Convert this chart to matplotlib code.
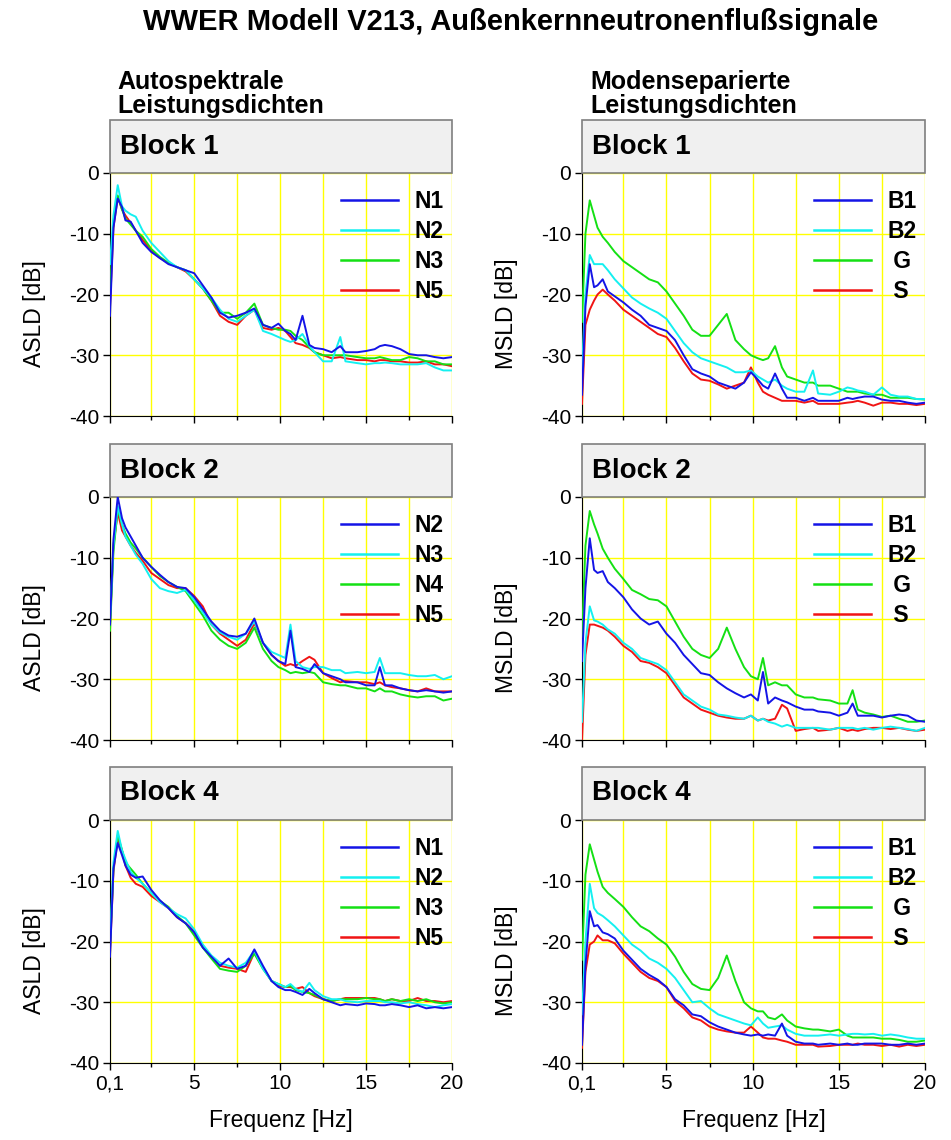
import matplotlib
matplotlib.use("Agg")
import matplotlib.pyplot as plt
from matplotlib.patches import Rectangle

plt.rcParams['font.family'] = ['Liberation Sans', 'DejaVu Sans']
plt.rcParams['axes.unicode_minus'] = False

# frequency grid (Hz) shared by all spectra
FREQ = [0.1, 0.3, 0.55, 0.8, 1.0, 1.3, 1.6, 2.0, 2.5, 3.0, 3.5, 4.0, 4.5, 5.0, 5.5, 6.0,
        6.5, 7.0, 7.5, 8.0, 8.5, 9.0, 9.5, 9.9, 10.3, 10.6, 10.9, 11.3, 11.7, 12.0, 12.5, 13.0,
        13.5, 13.8, 14.5, 15.0, 15.5, 15.8, 16.1, 16.5, 17.0, 17.5, 18.0, 18.5, 19.0, 19.5, 20.0]

# Block 1 - autospectral densities [dB]
b1_n1 = [-23.5, -9, -4.2, -5.6, -7.8, -8, -9.5, -11.5, -13, -14, -15, -15.5, -16, -16.5, -18.5, -20.5,
         -23, -23.8, -23.5, -23, -22.3, -25, -25.5, -24.8, -26, -26.5, -27.5, -23.5, -28.3, -28.8, -29, -29.5,
         -28.5, -29.5, -29.5, -29.3, -29, -28.5, -28.3, -28.5, -29, -29.8, -30, -30, -30.3, -30.5, -30.3]
b1_n2 = [-15, -7, -2, -5.5, -6.2, -6.8, -7.2, -9.5, -11.5, -13, -14.5, -15.5, -16, -17.5, -19, -20.5,
         -22.5, -24, -24.5, -23.5, -22.5, -26, -26.5, -27, -27.5, -27.8, -27.5, -26.5, -28.5, -29.5, -31, -31,
         -27, -31, -31.3, -31.5, -31.3, -31.3, -31.2, -31.3, -31.5, -31.5, -31.5, -31.3, -32, -32.5, -32.5]
b1_n3 = [-20, -8, -3.7, -6, -7.5, -8.5, -9.5, -10.5, -12.5, -13.8, -14.8, -15.5, -16, -17.5, -19, -21,
         -23, -23, -24, -23, -21.5, -25, -25.5, -25.8, -25.8, -26, -26.8, -27.5, -28.7, -29.5, -30, -30,
         -30, -30, -30.3, -30.5, -30.5, -30.3, -30.5, -30.8, -30.8, -30.3, -30.5, -31, -31, -31.5, -31.5]
b1_n5 = [-22, -9, -4, -6, -7, -8.2, -9.5, -11, -12.8, -14, -14.8, -15.5, -16.2, -17.5, -19, -21,
         -23.5, -24.5, -25, -23.5, -22.5, -25.5, -25.8, -25.5, -26, -27, -28, -28.3, -28.8, -29.5, -30, -30.5,
         -30.3, -30.5, -30.8, -30.8, -31, -30.8, -30.8, -31, -31, -31.2, -31.2, -31, -31.5, -31.5, -31.8]

# Block 1 - mode separated densities [dB]
b1_b1 = [-36.5, -22, -15, -18.8, -18.5, -17.5, -19.5, -20.3, -21.3, -22.5, -23.5, -25, -25.5, -26, -27.5, -30,
         -32.3, -33, -33.5, -34.5, -35, -35.5, -34.5, -32.8, -34, -35, -35.5, -33, -35.5, -37, -37, -37.5,
         -37, -37.5, -37.5, -37.5, -37, -37.2, -37, -36.8, -36.8, -37.3, -37.5, -37.5, -37.8, -38, -37.8]
b1_b2 = [-32.5, -20, -13.5, -15, -15, -15, -16, -17.5, -19, -20.5, -21.5, -22.3, -23, -24, -26, -28,
         -29.5, -30.5, -31, -31.5, -32, -32.8, -32.8, -32.5, -33.5, -34, -34.5, -34, -35, -35.5, -36, -36,
         -32.5, -36.3, -36.5, -36, -35.3, -35.5, -35.8, -36, -36.5, -35.3, -36.5, -36.8, -36.8, -37.2, -37.2]
b1_g = [-24.5, -10, -4.5, -7, -9, -10.5, -11.5, -13, -14.5, -15.5, -16.5, -17.5, -18, -19.5, -21.5, -23.5,
        -25.8, -26.8, -26.8, -25, -23.2, -27.5, -29, -30, -30.5, -30.8, -30.5, -28.5, -32, -33.5, -34, -34.5,
        -34.5, -35, -35, -35.5, -36, -36, -36, -36.3, -36.5, -36.5, -37, -37, -37, -37.2, -37.3]
b1_s = [-38, -25, -22.5, -21, -20, -19.2, -20, -21, -22.5, -23.5, -24.5, -25.5, -26.5, -27, -28.8, -31,
        -33, -34, -34.2, -34.8, -35.5, -35, -34.5, -32, -34.5, -36, -36.5, -37, -37.5, -37.5, -37.5, -37.8,
        -37.5, -38, -38, -38, -37.8, -37.7, -37.5, -37.8, -38.3, -37.8, -37.8, -38, -38, -38.2, -38]

# Block 2 - autospectral densities [dB]
b2_n2 = [-21, -7, 0, -3.5, -5, -6.5, -8, -10, -11.5, -12.8, -14, -14.8, -15, -16.5, -18.5, -20.5,
         -22, -22.8, -23, -22.5, -20, -24, -26, -27, -27.5, -22, -28, -28.3, -28.8, -27.5, -29, -29.5,
         -30, -30.5, -30.5, -31, -31, -28, -31, -31, -31.5, -31.8, -32, -31.8, -32, -32.2, -32]
b2_n3 = [-20, -8, -1.5, -4.5, -6.5, -8, -9.5, -11, -13.5, -15, -15.5, -15.8, -15.3, -17, -19, -21,
         -22.3, -23, -23.5, -22.5, -20.5, -24, -25.5, -26, -26.5, -21, -27, -28, -28.3, -28, -28, -28.5,
         -28.5, -29, -28.8, -29, -28.8, -26.5, -29, -29, -29, -29.3, -29.5, -29.5, -29.3, -30, -29.5]
b2_n4 = [-22, -9, -2, -4.5, -6, -7.5, -8.5, -10, -11.5, -13, -14, -14.8, -15.5, -17.5, -19.5, -22,
         -23.5, -24.5, -25, -24, -21.5, -25, -27, -28, -28.5, -29, -28.8, -29, -28.8, -29, -30.5, -30.8,
         -31, -31, -31.5, -31.5, -32, -31.5, -32, -32, -32.5, -32.8, -33, -32.8, -32.8, -33.5, -33.2]
b2_n5 = [-21, -8, -2.5, -5.5, -6.5, -8, -9.2, -10.5, -12.5, -13.5, -14.5, -15, -15, -16.3, -18, -21,
         -22.5, -23.5, -24.5, -23.5, -20.8, -24, -26, -27, -27.8, -27.5, -27.8, -27, -26.3, -26.8, -29, -29.8,
         -30.5, -30.3, -30.5, -30.5, -30.8, -30.5, -31, -31.3, -31.5, -31.8, -32, -31.5, -32, -32, -32]

# Block 2 - mode separated densities [dB]
b2_b1 = [-27, -15, -6.8, -12, -12.5, -12.2, -14, -15, -16.5, -18.5, -20, -21, -20.5, -22.5, -24, -26,
         -27.5, -29, -29.3, -30.5, -31.5, -32.3, -33, -32.5, -33.5, -28.8, -34, -33, -33.5, -33.8, -34.5, -35,
         -35, -35.3, -35.5, -36, -35.5, -34, -36, -36, -36, -36.3, -36, -35.8, -36, -36.8, -37]
b2_b2 = [-37, -24, -18, -20.3, -20.5, -21, -21.8, -22.5, -24, -25, -26.5, -27, -27.5, -28.5, -30.5, -32.5,
         -33.5, -34.5, -35, -35.8, -36, -36.3, -36.5, -36, -36.8, -36.5, -37, -37.3, -37.8, -37.5, -38, -38,
         -38, -38, -38.3, -38, -38, -38, -38.2, -38, -38.3, -38, -37.8, -38, -38.2, -38.5, -38]
b2_g = [-23, -8, -2.3, -4.5, -6, -8.5, -10, -11.8, -13.5, -15.3, -16, -16.8, -17, -18, -20.5, -23,
        -25, -26, -26.5, -25, -21.5, -25, -28, -29.5, -30, -26.5, -31, -30.5, -31, -31, -32.5, -33,
        -33, -33.3, -33.5, -34, -34, -31.8, -35, -35.5, -35.8, -36.2, -36, -36.5, -37, -37, -36.8]
b2_s = [-40, -26, -21, -21, -21.2, -21.5, -22, -23, -24.5, -25.5, -27, -27.3, -28, -29, -31, -33,
        -34, -35, -35.5, -36, -36.3, -36.5, -36.5, -36, -36.8, -36.5, -36.8, -36.5, -34.2, -34.8, -38.5, -38.2,
        -38, -38.5, -38.3, -38, -38.5, -38.3, -38.5, -38.2, -38, -38, -38.2, -38, -38.3, -38.5, -38.3]

# Block 4 - autospectral densities [dB]
b4_n1 = [-22.5, -8, -3.8, -5.8, -7.5, -9, -9.5, -9.3, -11.5, -13.2, -14.5, -16, -17, -18.5, -21, -22.5,
         -24, -22.8, -24.5, -24, -21.3, -24, -26.5, -27.5, -28, -28, -28.3, -28.8, -27.8, -28.5, -29.5, -30,
         -30.5, -30.3, -30.5, -30.2, -30.3, -30.5, -30.5, -30.3, -30.5, -30.8, -30.5, -31, -30.8, -31, -30.8]
b4_n2 = [-20, -7, -1.8, -5, -6.5, -8.5, -9.5, -10.5, -12, -13.5, -14.5, -15.5, -16.2, -18, -20.5, -22.3,
         -23.5, -24, -24.3, -23.5, -21.5, -24.5, -26.5, -27, -27.5, -27, -27.8, -28.3, -26.8, -28, -29, -29.5,
         -29.5, -29.8, -30, -29.8, -29.8, -29.8, -30, -30, -30.2, -30, -30.3, -30.5, -30.8, -30.5, -30.3]
b4_n3 = [-21, -8, -2.5, -5, -7, -8, -9, -10.5, -12, -13.3, -14.3, -15.8, -17, -19, -21, -22.8,
         -24.5, -24.8, -25, -24, -22, -24.5, -26.5, -27, -27.5, -27.3, -28, -28.3, -28.5, -28.8, -29.5, -29.8,
         -29.5, -29.5, -29.5, -29.3, -29.5, -29.5, -29.8, -29.5, -29.8, -29.5, -29.8, -29.5, -30, -30.2, -30]
b4_n5 = [-22, -8.5, -3, -5, -7.5, -9.5, -10.5, -11, -12.5, -13.5, -14.5, -16, -17, -18.3, -20.8, -22.5,
         -24, -24.3, -24.5, -25, -21.8, -24.3, -26.5, -27.3, -27.5, -27.5, -27.8, -27.5, -28.5, -29, -29.5, -29.8,
         -29.5, -29.3, -29.3, -29.3, -29.3, -29.5, -29.8, -29.5, -29.8, -29.8, -29.3, -29.8, -29.8, -30, -29.8]

# Block 4 - mode separated densities [dB]
b4_b1 = [-37, -24, -15, -17.5, -17.3, -18.5, -18.8, -19.5, -21.5, -23, -24.5, -25.5, -26.3, -27.5, -29.5, -30.5,
         -32, -32.3, -33.3, -34, -34.5, -35, -35.3, -35.5, -35.3, -35.5, -35.3, -35.5, -33.5, -35.5, -36.5, -36.8,
         -36.8, -37, -36.8, -37, -36.8, -37, -37, -36.8, -36.8, -36.8, -37, -37, -36.8, -37, -36.8]
b4_b2 = [-32, -20, -10.5, -14.5, -15.3, -15.8, -16.5, -17.5, -19, -20.5, -21.5, -22.8, -23.5, -24.5, -26, -28,
         -30, -29.8, -31, -32, -32.5, -33, -33.5, -33.8, -32.5, -33.5, -34.2, -34, -33.8, -34.5, -35.2, -35.5,
         -35.5, -35.5, -35.3, -35.5, -35.3, -35.2, -35.2, -35.3, -35.2, -35.5, -35.3, -35.5, -35.8, -36, -36]
b4_g = [-23, -9, -4, -6.5, -8.5, -11, -12, -13, -14.3, -16, -17.5, -18.3, -19.5, -20.5, -22.5, -25,
        -27, -27.8, -28, -26, -22.3, -26.5, -30, -31, -31.5, -31.5, -32.5, -32.8, -32, -33, -34, -34.3,
        -34.5, -34.5, -34.8, -34.5, -35.5, -35.8, -35.8, -35.8, -35.8, -36, -36, -36.2, -36.5, -36.5, -36.3]
b4_s = [-37.5, -25, -20.5, -20, -19, -19.8, -19.8, -20.3, -22, -23.5, -25, -26, -26.5, -27.5, -29.8, -31,
        -32.5, -33, -34, -34.5, -34.8, -35, -35, -34, -35, -35.8, -36, -36, -36.3, -36.5, -37, -37,
        -37, -37.3, -37.2, -37, -37, -37, -36.8, -37, -37, -37.2, -37, -37.3, -37, -37.2, -37]

XTICKS = [0.1, 5, 10, 15, 20]
XTICKLABELS = ['0,1', '5', '10', '15', '20']
YTICKS = [-40, -30, -20, -10, 0]

COLORS = ['#1414e6', '#14f0f0', '#14e014', '#f01414']

panels = [
    (0, 0, 'Block 1', 'ASLD [dB]', ['N1', 'N2', 'N3', 'N5'], [b1_n1, b1_n2, b1_n3, b1_n5]),
    (0, 1, 'Block 1', 'MSLD [dB]', ['B1', 'B2', ' G', ' S'], [b1_b1, b1_b2, b1_g, b1_s]),
    (1, 0, 'Block 2', 'ASLD [dB]', ['N2', 'N3', 'N4', 'N5'], [b2_n2, b2_n3, b2_n4, b2_n5]),
    (1, 1, 'Block 2', 'MSLD [dB]', ['B1', 'B2', ' G', ' S'], [b2_b1, b2_b2, b2_g, b2_s]),
    (2, 0, 'Block 4', 'ASLD [dB]', ['N1', 'N2', 'N3', 'N5'], [b4_n1, b4_n2, b4_n3, b4_n5]),
    (2, 1, 'Block 4', 'MSLD [dB]', ['B1', 'B2', ' G', ' S'], [b4_b1, b4_b2, b4_g, b4_s]),
]

W, H = 951, 1140
col_x = [110, 582]
col_w = [342, 343]
row_top = [173, 497, 820]
ax_h = 243
head_h = 53

fig = plt.figure(figsize=(W / 100, H / 100), dpi=100)

for row, col, block, ylab, labels, series in panels:
    ax = fig.add_axes([col_x[col] / W, 1 - (row_top[row] + ax_h) / H, col_w[col] / W, ax_h / H])

    # draw red first so blue ends up on top
    handles = [None] * 4
    for i in reversed(range(4)):
        handles[i], = ax.plot(FREQ, series[i], color=COLORS[i], lw=1.4, zorder=3 + (4 - i))

    ax.set_xlim(0.1, 20)
    ax.set_ylim(-40, 0)
    ax.set_xticks(XTICKS)
    ax.set_xticks([2.5, 7.5, 12.5, 17.5], minor=True)
    ax.set_yticks(YTICKS)
    if row == 2:
        ax.set_xticklabels(XTICKLABELS)
        ax.set_xlabel('Frequenz [Hz]', fontsize=16.5)
        ax.xaxis.set_label_coords(0.5, -0.19)
    else:
        ax.set_xticklabels([])
    ax.grid(True, which='both', color='#ffff00', lw=1)
    ax.set_axisbelow(True)
    ax.tick_params(which='major', direction='out', length=5, width=1, labelsize=15, pad=3)
    ax.tick_params(which='minor', direction='out', length=3, width=1)
    for s in ['top', 'right']:
        ax.spines[s].set_visible(False)
    ax.set_ylabel(ylab, fontsize=16.5)
    ax.yaxis.set_label_coords(-0.187, 0.42)

    # grey header box above each panel
    ax.add_patch(Rectangle((0, 1), 1, head_h / ax_h, transform=ax.transAxes, clip_on=False,
                           facecolor='#f0f0f0', edgecolor='#7f7f7f', lw=1.2, zorder=5))
    ax.text(10 / col_w[col], 1 + head_h / ax_h / 2, block, transform=ax.transAxes,
            fontsize=20, fontweight='bold', va='center', ha='left', zorder=6)

    leg = ax.legend(handles, labels, loc='upper right', bbox_to_anchor=(1.025, 1.0), frameon=False,
                    prop={'weight': 'bold', 'size': 16.5}, handlelength=2.5, handletextpad=0.7,
                    labelspacing=0.3, borderaxespad=0.35)
    for line in leg.get_lines():
        line.set_linewidth(1.8)

fig.text(0.537, 1 - 22 / H, 'WWER Modell V213, Außenkernneutronenflußsignale',
         fontsize=21, fontweight='bold', ha='center', va='center')
fig.text(117 / W, 1 - 94 / H, 'Autospektrale\nLeistungsdichten', fontsize=18,
         fontweight='bold', ha='left', va='center', linespacing=0.95)
fig.text(590 / W, 1 - 94 / H, 'Modenseparierte\nLeistungsdichten', fontsize=18,
         fontweight='bold', ha='left', va='center', linespacing=0.95)

fig.savefig('out.png', dpi=100)
